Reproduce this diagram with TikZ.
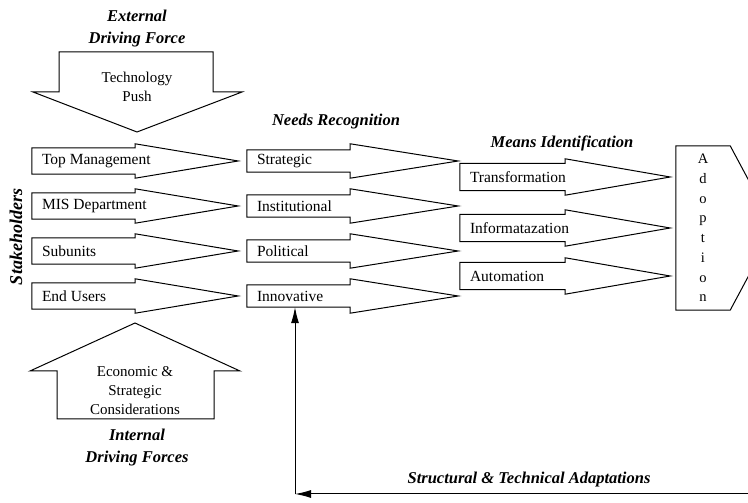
\documentclass[tikz,border=0pt]{standalone}
\usepackage{fontspec}
\setmainfont{Liberation Serif}
\usepackage{tikz}
\usetikzlibrary{calc, arrows.meta}

\begin{document}
\begin{tikzpicture}[
    x=1pt, y=1pt,
    fat/.style={draw, line width=1pt, line join=miter},
    armbody/.style={rectangle, inner xsep=10pt, inner ysep=0pt, font=\fontsize{15.5}{17}\selectfont},
    stakebody/.style={armbody, minimum width=103pt, minimum height=26pt},
    needbody/.style={armbody, minimum width=103pt, minimum height=22pt},
    meanbody/.style={armbody, minimum width=105pt, minimum height=27pt},
    boxtext/.style={align=center, inner sep=0pt, font=\fontsize{15}{19}\selectfont},
    heading/.style={align=center, inner sep=0pt, font=\fontsize{16.5}{22}\selectfont\bfseries\itshape},
    feedback/.style={draw, line width=1pt, -{Latex[length=16pt, width=8pt]}}
]
\useasboundingbox (0,0) rectangle (748,503);

% driving forces
\draw[fat] (59,451) -- (213,451) -- (213,411) -- (242,411) -- (137,371) -- (33,411) -- (59,411) -- cycle;
\node[boxtext] (push) at (137,416) {Technology\\Push};
\node[heading] (extforce) at (137,474) {External\\Driving Force};

\draw[fat] (135,180) -- (240,132) -- (214,132) -- (214,84) -- (57,84) -- (57,132) -- (30,132) -- cycle;
\node[boxtext] (econ) at (135,112) {Economic \&\\Strategic\\Considerations};
\node[heading] (intforce) at (137,55) {Internal\\Driving Forces};

% stakeholders
\node[heading, font=\fontsize{18}{20}\selectfont\bfseries\itshape, rotate=90] (stake) at (16,266) {Stakeholders};
\foreach \y/\nm/\txt in {342/top/Top Management, 297/mis/MIS Department, 252/sub/Subunits, 207/users/End Users}{
    \node[stakebody] (\nm) at (83.5,\y) {\makebox[83pt][l]{\txt}};
    \draw[fat] (\nm.north west) -- (\nm.north east) -- ++(0,4) -- ($(\nm.east)+(103,0)$)
        -- ($(\nm.south east)+(0,-4)$) -- (\nm.south east) -- (\nm.south west) -- cycle;
}

% needs recognition
\node[heading] (needs) at (336,381) {Needs Recognition};
\foreach \y/\nm/\txt in {342/strat/Strategic, 297/inst/Institutional, 252/pol/Political, 207/innov/Innovative}{
    \node[needbody] (\nm) at (298.5,\y) {\makebox[83pt][l]{\txt}};
    \draw[fat] (\nm.north west) -- (\nm.north east) -- ++(0,6) -- ($(\nm.east)+(108,0)$)
        -- ($(\nm.south east)+(0,-6)$) -- (\nm.south east) -- (\nm.south west) -- cycle;
}

% means identification
\node[heading] (means) at (562,360) {Means Identification};
\foreach \y/\nm/\txt in {326/transf/Transformation, 275/inform/Informatazation, 227/autom/Automation}{
    \node[meanbody] (\nm) at (512.5,\y) {\makebox[85pt][l]{\txt}};
    \draw[fat] (\nm.north west) -- (\nm.north east) -- ++(0,4.5) -- ($(\nm.east)+(105,0)$)
        -- ($(\nm.south east)+(0,-4.5)$) -- (\nm.south east) -- (\nm.south west) -- cycle;
}

% adoption
\node[rectangle, minimum width=54pt, minimum height=164pt, align=center, inner sep=0pt,
      font=\fontsize{14.5}{19.7}\selectfont] (adopt) at (703,275) {A\\d\\o\\p\\t\\i\\o\\n};
\draw[fat] (adopt.north west) -- (adopt.north east) -- ($(adopt.east)+(44,0)$)
    -- (adopt.south east) -- (adopt.south west) -- cycle;

% adaptations fed back
\coordinate (fbend) at (748,9);
\coordinate (fbcorner) at (295,9);
\draw[feedback] (fbend) -- (fbcorner);
\draw[feedback] (fbcorner) -- (fbcorner |- innov.south);
\node[heading] (adapt) at (529,23) {Structural \& Technical Adaptations};

\end{tikzpicture}
\end{document}
